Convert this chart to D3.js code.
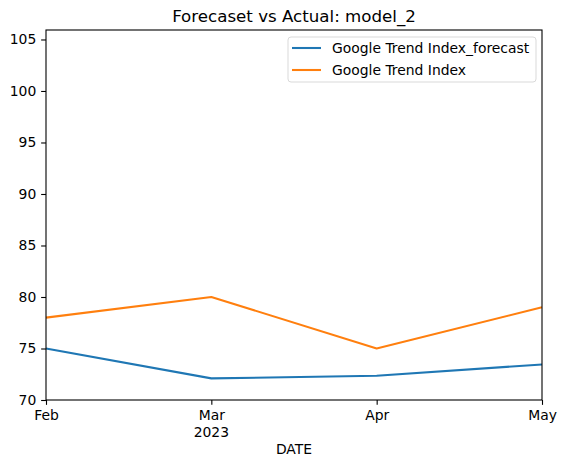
<!DOCTYPE html>
<html>
<head>
<meta charset="utf-8">
<script src="https://cdn.jsdelivr.net/npm/d3@7"></script>
<style>
  body { margin: 0; background: #fff; }
  text { font-family: "DejaVu Sans", sans-serif; fill: #000; }
</style>
</head>
<body>
<div id="chart"></div>
<script>
// data
const months = ["Feb", "Mar", "Apr", "May"];
const forecast = [75.0, 72.1, 72.35, 73.45];
const actual = [78, 80, 75, 79];
const yTicks = [70, 75, 80, 85, 90, 95, 100, 105];
const seriesNames = ["Google Trend Index_forecast", "Google Trend Index"];
const seriesColors = ["#1f77b4", "#ff7f0e"];

// dimensions
const W = 566, H = 467;
const margin = {top: 30, right: 24, bottom: 67, left: 46};
const width = W - margin.left - margin.right,
  height = H - margin.top - margin.bottom;

const svg = d3.select("#chart").append("svg")
  .attr("width", W).attr("height", H);

const g = svg.append("g")
  .attr("transform", `translate(${margin.left},${margin.top})`);

const x = d3.scaleLinear().domain([0, months.length - 1]).range([0, width]);
const y = d3.scaleLinear().domain([70, 105.92]).range([height, 0]);

// lines
const line = d3.line()
  .x((d, i) => x(i))
  .y(d => y(d));

[forecast, actual].forEach((s, k) => {
  g.append("path")
    .datum(s)
    .attr("fill", "none")
    .attr("stroke", seriesColors[k])
    .attr("stroke-width", 2.08)
    .attr("stroke-linejoin", "round")
    .attr("d", line);
});

// axes
const yAxis = g.append("g")
  .call(d3.axisLeft(y).tickValues(yTicks).tickSize(4.86).tickPadding(4.86));
const xAxis = g.append("g")
  .attr("transform", `translate(0,${height})`)
  .call(d3.axisBottom(x).tickValues(d3.range(months.length))
    .tickFormat(i => months[i]).tickSize(4.86).tickPadding(4.86));

[xAxis, yAxis].forEach(a => {
  a.select(".domain").remove();
  a.selectAll(".tick line").attr("stroke", "#000").attr("stroke-width", 1.1);
  a.selectAll(".tick text").style("font-size", "13.9px").attr("fill", "#000");
});

// year label under Mar
xAxis.append("text")
  .attr("x", x(1)).attr("y", 37)
  .attr("text-anchor", "middle")
  .style("font-size", "13.9px")
  .text("2023");

// spines
g.append("rect")
  .attr("width", width).attr("height", height)
  .attr("fill", "none").attr("stroke", "#000").attr("stroke-width", 1.1);

// axis label
svg.append("text")
  .attr("x", margin.left + width / 2).attr("y", 454)
  .attr("text-anchor", "middle")
  .style("font-size", "13.9px")
  .text("DATE");

// title
svg.append("text")
  .attr("x", margin.left + width / 2).attr("y", 22)
  .attr("text-anchor", "middle")
  .style("font-size", "16.67px")
  .text("Forecaset vs Actual: model_2");

// legend
const leg = g.append("g").attr("transform", `translate(${width - 254},7)`);
leg.append("rect")
  .attr("width", 248).attr("height", 45).attr("rx", 3)
  .attr("fill", "#fff").attr("fill-opacity", 0.8)
  .attr("stroke", "#d9d9d9").attr("stroke-width", 1);

seriesNames.forEach((name, i) => {
  const row = leg.append("g").attr("transform", `translate(0,${11 + i * 22})`);
  row.append("line")
    .attr("x1", 4).attr("x2", 33)
    .attr("stroke", seriesColors[i]).attr("stroke-width", 2.08);
  row.append("text")
    .attr("x", 44).attr("dy", "0.35em")
    .style("font-size", "13.9px")
    .text(name);
});
</script>
</body>
</html>
